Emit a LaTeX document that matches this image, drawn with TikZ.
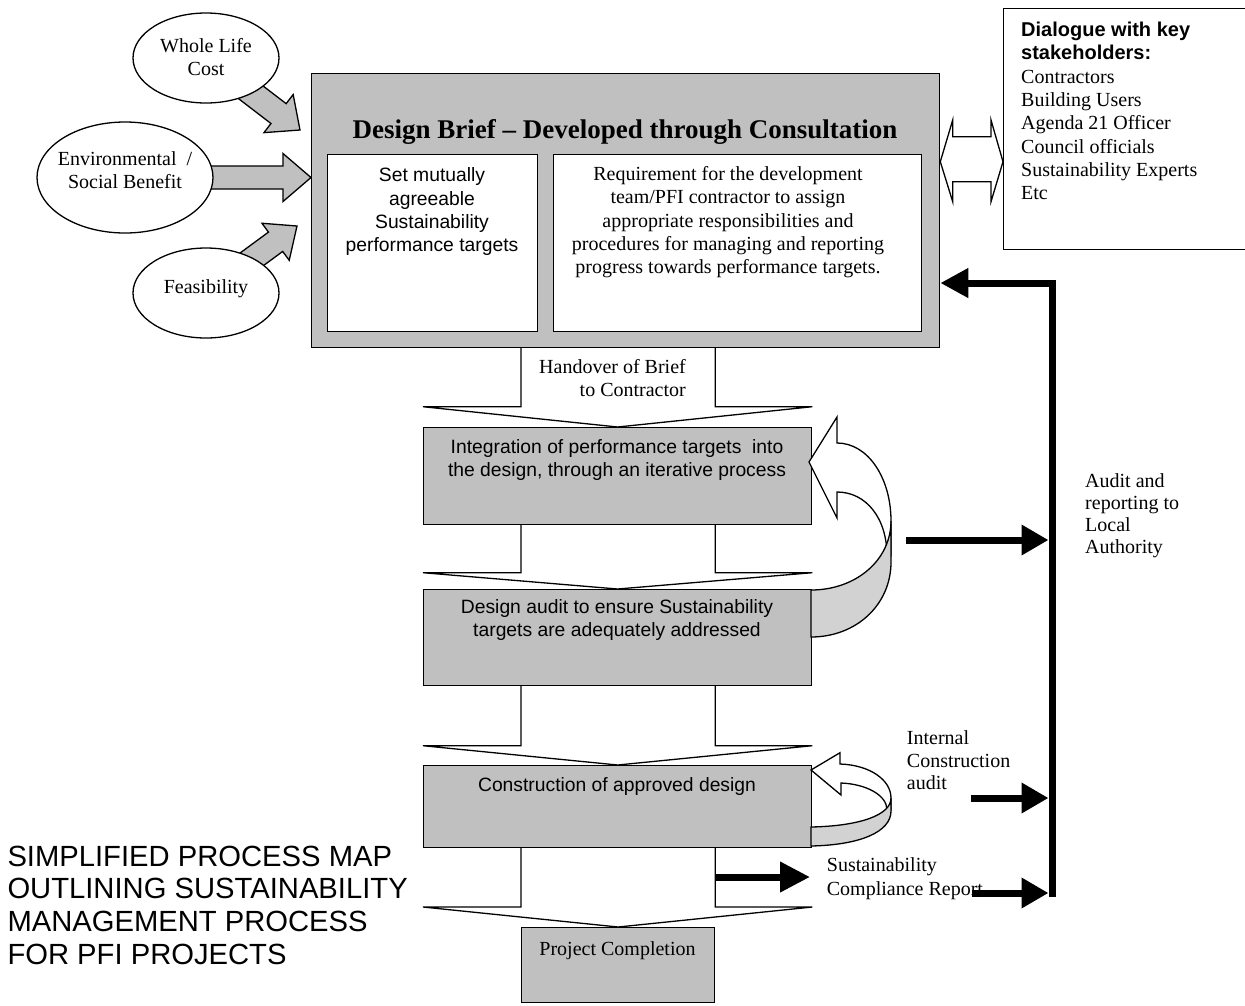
\documentclass[tikz,border=0pt]{standalone}
\usepackage{fontspec}
\setmainfont{Liberation Serif}
\setsansfont{Liberation Sans}
\usetikzlibrary{calc,shapes.geometric,arrows.meta,backgrounds}
\definecolor{boxgray}{RGB}{192,192,192}
\definecolor{bandgray}{RGB}{210,210,210}
% block arrow: #1 start, #2 tip, #3 shaft half width, #4 head half width, #5 head length
\newcommand\mkblockarrow[5]{%
  \coordinate (ba-h) at ($(#2)!#5!(#1)$);
  \path[blockarrow] ($(#1)!#3!90:(#2)$) -- ($(ba-h)!#3!90:(#2)$) -- ($(ba-h)!#4!90:(#2)$) -- (#2)
     -- ($(ba-h)!#4!-90:(#2)$) -- ($(ba-h)!#3!-90:(#2)$) -- ($(#1)!#3!-90:(#2)$) -- cycle;}
% flat chevron: #1 upper box, #2 lower box, #3 head length, #4 box giving wing width
\newcommand\chevarrow[4]{%
  \path[chev] ($(compl.west |- #1.south)+(0,-6)$) -- ($(compl.west |- #2.north)+(0,-#3)$)
     -- ($(#4.west |- #2.north)+(0,-#3)$) -- (#2.north) -- ($(#4.east |- #2.north)+(0,-#3)$)
     -- ($(compl.east |- #2.north)+(0,-#3)$) -- ($(compl.east |- #1.south)+(0,-6)$) -- cycle;}
\begin{document}
\begin{tikzpicture}[x=1pt,y=-1pt,line join=miter,
  bx/.style={draw, line width=1.3pt, inner sep=0pt, anchor=north west},
  graybox/.style={bx, fill=boxgray},
  whitebox/.style={bx, fill=white},
  oval/.style={ellipse, draw, line width=1.3pt, fill=white, inner sep=0pt},
  sertxt/.style={font=\fontsize{20}{23.3}\selectfont, inner sep=0pt},
  santxt/.style={font=\sffamily\fontsize{19.3}{23.3}\selectfont, inner sep=0pt},
  blockarrow/.style={draw, line width=1.3pt, fill=boxgray},
  chev/.style={draw, line width=1.3pt, fill=white},
  band/.style={draw, line width=1.3pt, fill=bandgray},
  face/.style={draw, line width=1.3pt, fill=white},
  heavy/.style={line width=7pt, -{Triangle[length=27pt,width=29pt]}},
]
\useasboundingbox (0,0) rectangle (1245,1005);
\clip (0,0) rectangle (1245,1005);

% ---------- boxes ----------
\node[graybox, minimum width=628pt, minimum height=274pt] (brief) at (311,73) {};
\node[whitebox, minimum width=210pt, minimum height=177pt] (set) at (327,154) {};
\node[whitebox, minimum width=368pt, minimum height=177pt] (req) at (553,154) {};
\node[whitebox, minimum width=260pt, minimum height=241pt] (stake) at (1003,8) {};
\node[graybox, minimum width=388pt, minimum height=97pt] (integ) at (423,427) {};
\node[graybox, minimum width=388pt, minimum height=96pt] (daudit) at (423,589) {};
\node[graybox, minimum width=388pt, minimum height=82pt] (constr) at (423,765) {};
\node[graybox, minimum width=193pt, minimum height=75pt] (compl) at (521,927) {};

% ---------- ellipses ----------
\node[oval, minimum width=146pt, minimum height=90pt] (wlc) at (206,58) {};
\node[oval, minimum width=176pt, minimum height=111pt] (env) at (125,177.5) {};
\node[oval, minimum width=146pt, minimum height=90pt] (feas) at (206,293) {};

% ---------- texts ----------
\node[sertxt, anchor=north, align=center] (wlct) at (206,38) {Whole Life\\Cost};
\node[sertxt, anchor=north, align=center] (envt) at (125,151.1) {Environmental~ /\\Social Benefit};
\node[sertxt, anchor=base] (feast) at (206,293.3) {Feasibility};
\node[font=\bfseries\fontsize{27}{30}\selectfont, inner sep=0pt, anchor=base] (ttl) at (625,138.3)
  {Design Brief -- Developed through Consultation};
\node[santxt, anchor=north, align=center] (sett) at (432,167.6)
  {Set mutually\\agreeable\\Sustainability\\performance targets};
\node[sertxt, anchor=north, align=center] (reqt) at (728,166.2)
  {Requirement for the development\\team/PFI contractor to assign\\appropriate responsibilities and\\procedures for managing and reporting\\progress towards performance targets.};
\node[font=\fontsize{20}{23.3}\selectfont, inner sep=0pt, anchor=north west, align=left] (staket) at (1021,22)
  {\textsf{\textbf{Dialogue with key}}\\\textsf{\textbf{stakeholders:}}\\Contractors\\Building Users\\Agenda 21 Officer\\Council officials\\Sustainability Experts\\Etc};
\node[sertxt, anchor=north east, align=right] (hand) at (686,359) {Handover of Brief\\to Contractor};
\node[santxt, anchor=north, align=center] (integt) at (617,439.3)
  {Integration of performance targets~ into\\the design, through an iterative process};
\node[santxt, anchor=north, align=center] (dauditt) at (617,599)
  {Design audit to ensure Sustainability\\targets are adequately addressed};
\node[santxt, anchor=base] (constrt) at (617,791.7) {Construction of approved design};
\node[sertxt, anchor=base] (complt) at (617.5,955) {Project Completion};
\node[sertxt, font=\fontsize{20}{22.3}\selectfont, anchor=north west, align=left] (auditt) at (1085,473)
  {Audit and\\reporting to\\Local\\Authority};
\node[sertxt, font=\fontsize{20}{22.7}\selectfont, anchor=north west, align=left] (intt) at (906.7,730.3)
  {Internal\\Construction\\audit};
\node[sertxt, anchor=north west, align=left] (sust) at (826.7,857.9) {Sustainability\\Compliance Report};
\node[font=\sffamily\fontsize{29.2}{32.8}\selectfont, inner sep=0pt, anchor=north west, align=left] (cap) at (7.3,845.5)
  {SIMPLIFIED PROCESS MAP\\OUTLINING SUSTAINABILITY\\MANAGEMENT PROCESS\\FOR PFI PROJECTS};

% ---------- background: block arrows and chevrons ----------
\coordinate (wlctip) at (300,130);
\coordinate (envtip) at (brief.west |- env.center);
\coordinate (feastip) at (297,226);
\begin{scope}[on background layer]
  \mkblockarrow{wlc.center}{wlctip}{12.5pt}{24pt}{27pt}
  \mkblockarrow{env.center}{envtip}{11.5pt}{24pt}{28pt}
  \mkblockarrow{feas.center}{feastip}{12pt}{23pt}{26.6pt}
  \chevarrow{brief}{integ}{20.3}{integ}
  \chevarrow{integ}{daudit}{16.3}{daudit}
  \chevarrow{daudit}{constr}{19.3}{constr}
  \chevarrow{constr}{compl}{20}{constr}
\end{scope}

% ---------- curved loop arrows ----------
\path[face] (809,462) -- (837,417) -- (837,443) .. controls (868,443) and (891,478) .. (891,521)
  -- (891,556) -- (887,556) .. controls (887,518) and (866,492) .. (837,492) -- (837,518) -- cycle;
\path[band] (891,521) -- (891,562) .. controls (891,605) and (856,637) .. (811,637)
  -- (811,590) .. controls (856,590) and (891,560) .. (891,521) -- cycle;

\path[face] (811,770) -- (840,752.7) -- (840,764) .. controls (870,765) and (891,780) .. (891,798)
  -- (891,810) -- (887,810) .. controls (887,795) and (866,784) .. (841,783) -- (841,795) -- cycle;
\path[band] (891,798) -- (891,811) .. controls (891,832) and (860,845) .. (811,846)
  -- (811,827) .. controls (860,826) and (891,815) .. (891,798) -- cycle;

% ---------- double outline arrow ----------
\path[face] (brief.east |- 0,161.7) -- (952.7,120) -- (952.7,136.7) -- (991,136.7) -- (991,120)
  -- (stake.west |- 0,161.7) -- (991,201.7) -- (991,181.7) -- (952.7,181.7) -- (952.7,201.7) -- cycle;

% ---------- heavy black connectors ----------
\coordinate (brkbot) at (1052,896.5);
\coordinate (brktop) at (1052,283);
\coordinate (auditsrc) at (906,540);
\coordinate (intsrc) at (971,798);
\coordinate (compsrc) at (971.7,893);
\coordinate (sustip) at (810,877);
\draw[heavy, -{Triangle[length=28pt,width=28pt]}] (brkbot) -- (brktop) -- (brief.east |- brktop);
\draw[heavy] (auditsrc) -- ($(brkbot |- auditsrc)+(-3.5,0)$);
\draw[heavy] (intsrc) -- ($(brkbot |- intsrc)+(-3.5,0)$);
\draw[heavy] (compsrc) -- ($(brkbot |- compsrc)+(-3.5,0)$);
\draw[heavy, -{Triangle[length=30pt,width=29pt]}] (compl.east |- sustip) -- (sustip);
\end{tikzpicture}
\end{document}
